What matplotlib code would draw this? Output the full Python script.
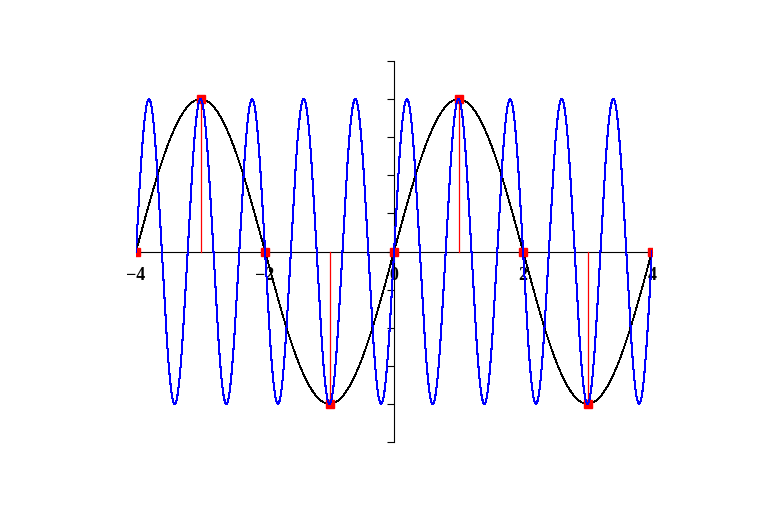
import numpy as np
import matplotlib
matplotlib.use("Agg")
import matplotlib.pyplot as plt

# sampled points (integers) and their values
sample_x = [-4, -3, -2, -1, 0, 1, 2, 3, 4]
sample_y = [0, 1, 0, -1, 0, 1, 0, -1, 0]

# the two curves: slow sine and the aliased fast one
slow_freq = 0.5   # sin(pi*x*slow_freq*2)
fast_freq = 2.5
x_labels = [-4, -2, 0, 2, 4]
y_ticks = [-1.25, -1.0, -0.75, -0.5, -0.25, 0, 0.25, 0.5, 0.75, 1.0, 1.25]

xs = np.linspace(-4, 4, 2001)
slow = np.sin(np.pi * slow_freq * xs)
fast = np.sin(np.pi * fast_freq * xs)

fig = plt.figure(figsize=(7.61, 5.31), dpi=100)
ax = fig.add_axes([136 / 761, 89 / 531, 516 / 761, 381 / 531])

ax.plot(xs, slow, color="black", lw=0.6, antialiased=False, zorder=3)

# red stems from the axis up to each sample
for sx, sy in zip(sample_x, sample_y):
    ax.plot([sx, sx], [0, sy], color="#ff0000", lw=0.9, zorder=4)
ax.plot(sample_x, sample_y, ls="none", marker="s", ms=5.8, mfc="#ff0000",
        mec="#ff0000", zorder=5)

# fast curve drawn over the sample markers
ax.plot(xs, fast, color="#0000ff", lw=0.75, antialiased=False, zorder=6)

ax.set_xlim(-4, 4)
ax.set_ylim(-1.25, 1.25)

for side in ["top", "right"]:
    ax.spines[side].set_visible(False)
ax.spines["left"].set_position(("data", 0))
ax.spines["bottom"].set_position(("data", 0))
ax.spines["left"].set_linewidth(0.8)
ax.spines["bottom"].set_linewidth(0.8)

ax.set_xticks(x_labels)
ax.set_xticklabels(["\u2212" + str(-v) if v < 0 else str(v) for v in x_labels],
                   fontfamily="Liberation Serif", fontweight="bold", fontsize=13)
ax.tick_params(axis="x", length=0, pad=11)

ax.set_yticks(y_ticks)
ax.set_yticklabels([])
ax.tick_params(axis="y", direction="out", length=5, width=0.8)

fig.savefig("out.png", dpi=100)
